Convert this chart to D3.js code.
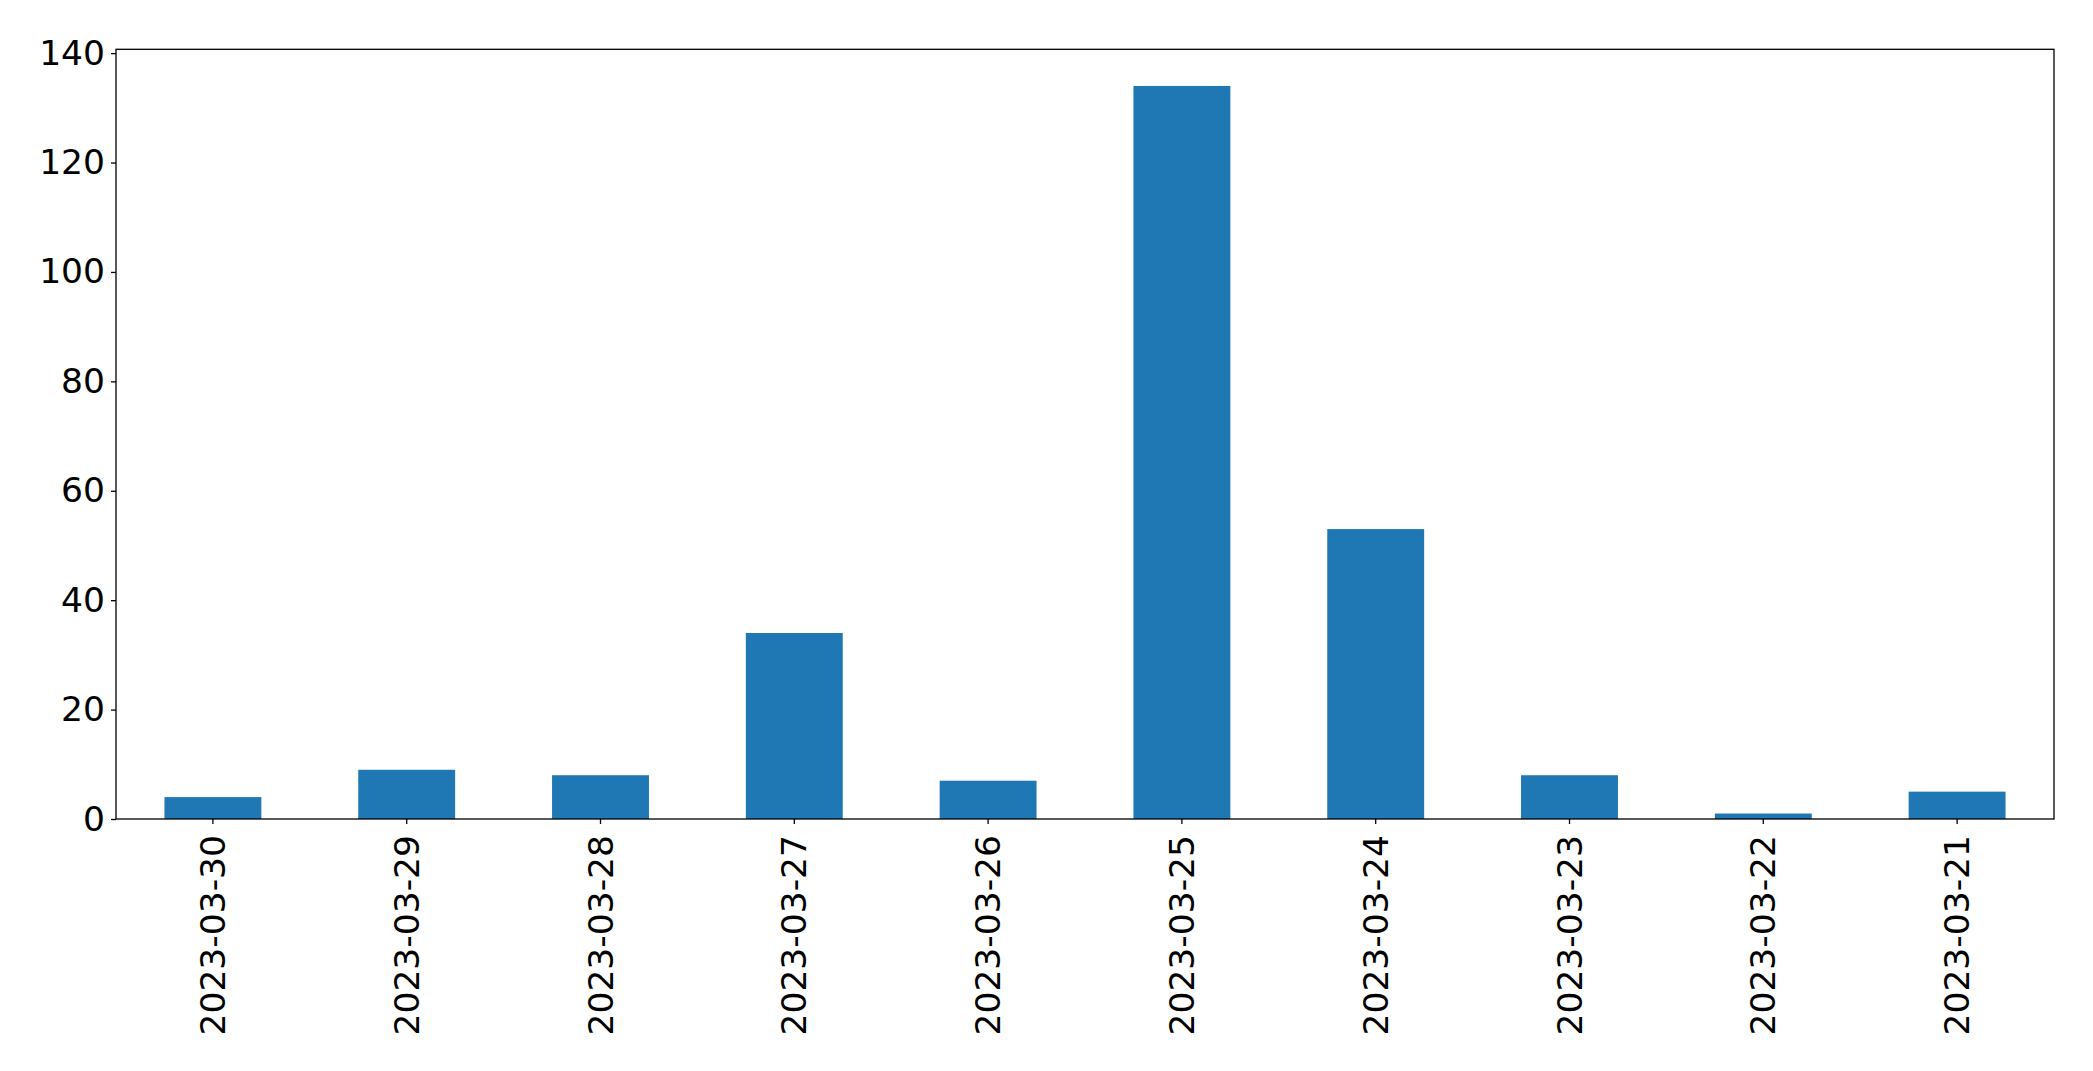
<!DOCTYPE html>
<html>
<head>
<meta charset="utf-8">
<script src="https://cdn.jsdelivr.net/npm/d3@7"></script>
<style>
  html, body { margin: 0; padding: 0; background: #ffffff; }
  svg { display: block; }
  text { font-family: "DejaVu Sans", sans-serif; fill: #000; }
</style>
</head>
<body>
<svg id="chart" width="2093" height="1071"></svg>
<script>
const categories = ["2023-03-30","2023-03-29","2023-03-28","2023-03-27","2023-03-26","2023-03-25","2023-03-24","2023-03-23","2023-03-22","2023-03-21"];
const values = [4, 9, 8, 34, 7, 134, 53, 8, 1, 5];
const yTicks = [0, 20, 40, 60, 80, 100, 120, 140];

const W = 2093, H = 1071;
const plot = { left: 116, right: 2054, top: 49.3, bottom: 819 };
const svg = d3.select("#chart");
const FS = 34.5;

const x = d3.scaleBand()
  .domain(categories)
  .range([plot.left, plot.right])
  .paddingInner(0.5)
  .paddingOuter(0.25);

const y = d3.scaleLinear()
  .domain([0, d3.max(values) * 1.05])
  .range([plot.bottom, plot.top]);

// bars
svg.append("g").selectAll("rect")
  .data(values)
  .join("rect")
  .attr("x", (d, i) => x(categories[i]))
  .attr("width", x.bandwidth())
  .attr("y", d => y(d))
  .attr("height", d => y(0) - y(d))
  .attr("fill", "#1f77b4");

// y axis
const yAxis = d3.axisLeft(y).tickValues(yTicks).tickSize(5).tickPadding(6).tickFormat(d3.format("d"));
const gy = svg.append("g").attr("transform", `translate(${plot.left},0)`).call(yAxis);
gy.select(".domain").remove();
gy.selectAll(".tick line").attr("stroke", "#000").attr("stroke-width", 1.3);
gy.selectAll(".tick text").attr("font-size", FS).attr("font-family", "DejaVu Sans").attr("fill", "#000");

// x axis
const xAxis = d3.axisBottom(x).tickSize(5).tickPadding(0);
const gx = svg.append("g").attr("transform", `translate(0,${plot.bottom})`).call(xAxis);
gx.select(".domain").remove();
gx.selectAll(".tick line").attr("stroke", "#000").attr("stroke-width", 1.3);
gx.selectAll(".tick text")
  .attr("font-size", FS)
  .attr("font-family", "DejaVu Sans")
  .attr("fill", "#000")
  .attr("text-anchor", "end")
  .attr("transform", "translate(0,16) rotate(-90)")
  .attr("x", 0)
  .attr("y", 0)
  .attr("dy", "0.35em");

// frame
svg.append("rect")
  .attr("x", plot.left).attr("y", plot.top)
  .attr("width", plot.right - plot.left).attr("height", plot.bottom - plot.top)
  .attr("fill", "none").attr("stroke", "#000").attr("stroke-width", 1.3);
</script>
</body>
</html>
